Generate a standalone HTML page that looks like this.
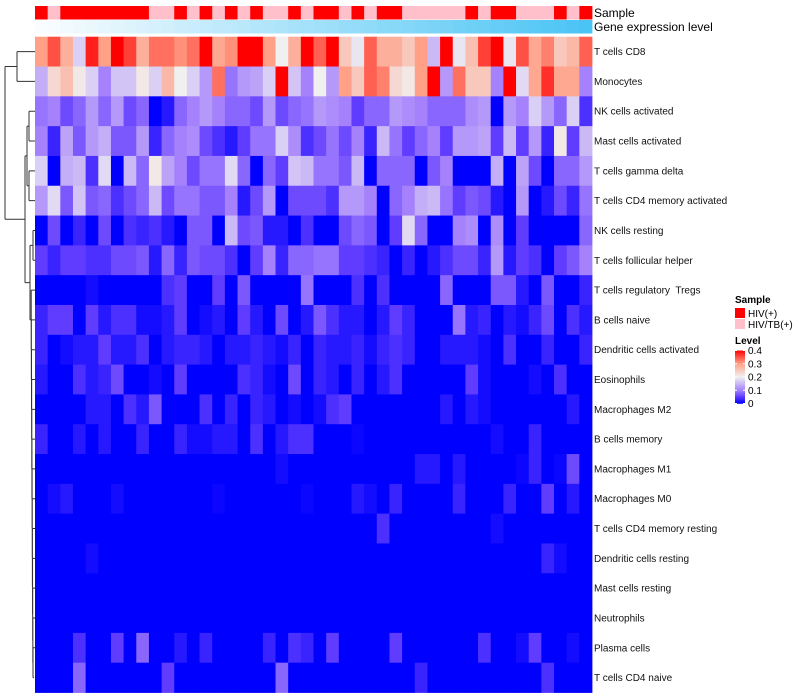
<!DOCTYPE html>
<html><head><meta charset="utf-8"><style>
body{margin:0;background:#fff;}
svg{display:block;font-family:"Liberation Sans",sans-serif;}
text{white-space:pre;}
</style></head><body>
<svg id="chart" width="800" height="700"></svg>
<script>
const rowLabels=["T cells CD8","Monocytes","NK cells activated","Mast cells activated","T cells gamma delta","T cells CD4 memory activated","NK cells resting","T cells follicular helper","T cells regulatory  Tregs","B cells naive","Dendritic cells activated","Eosinophils","Macrophages M2","B cells memory","Macrophages M1","Macrophages M0","T cells CD4 memory resting","Dendritic cells resting","Mast cells resting","Neutrophils","Plasma cells","T cells CD4 naive"];
const sampleGroups=[1,0,1,1,1,1,1,1,1,0,0,1,0,1,0,1,0,1,0,0,1,0,1,1,0,1,0,1,1,0,0,0,0,0,1,0,1,1,0,0,0,1,0,1];
const geneLevel=[0,.02,.05,.07,.09,.12,.14,.16,.19,.21,.23,.26,.28,.3,.33,.35,.37,.4,.42,.44,.47,.49,.51,.53,.56,.58,.6,.63,.65,.67,.7,.72,.74,.77,.79,.81,.84,.86,.88,.91,.93,.95,.98,1];
const legendTicks=[0,0.1,0.2,0.3,0.4];
const cellValues=[
[.3,.35,.28,.17,.38,.3,.4,.36,.28,.33,.33,.31,.33,.4,.29,.31,.4,.4,.3,.2,.28,.4,.34,.4,.25,.19,.34,.28,.28,.25,.3,.15,.4,.19,.26,.36,.4,.19,.35,.29,.32,.25,.27,.34],
[.14,.23,.26,.21,.17,.1,.16,.16,.21,.17,.27,.2,.17,.12,.33,.09,.12,.13,.17,.4,.16,.1,.2,.12,.3,.25,.34,.32,.23,.21,.3,.4,.12,.33,.25,.25,.1,.4,.18,.29,.37,.29,.29,.1],
[.09,.1,.06,.08,.12,.08,.12,.06,.08,0,.02,.08,.1,.12,.1,.08,.08,.06,.12,.06,.08,.09,.12,.11,.1,.05,.08,.08,.12,.11,.1,.08,.08,.08,.11,.12,0,.12,.1,.17,.12,.08,.17,.04],
[.1,.03,.13,.07,.12,.14,.07,.07,.12,.03,.08,.1,.11,.06,.04,.02,.05,.09,.09,.17,.11,.04,.06,.09,.06,.1,.03,.15,.09,.05,.08,.1,.05,.12,.12,.13,.05,.15,.05,.12,.03,.21,.05,.15],
[.17,0,.14,.15,.04,.18,0,.15,.08,.21,.13,.1,.06,.09,.09,.18,.08,0,.08,.05,.16,.15,.09,.09,.07,.15,0,.08,.08,.08,0,.07,.1,0,0,0,.14,0,.13,.06,0,.08,.08,.12],
[.12,.18,.07,.16,.07,.08,.04,.06,.08,.15,.06,.09,.09,.07,.07,.1,.02,.06,.12,0,.06,.06,.06,.04,.12,.12,.1,0,.08,.1,.14,.15,.09,.05,.07,.06,.02,0,.12,0,.02,.06,.03,.09],
[0,.06,0,.03,0,.06,0,.04,.03,.04,.02,0,.07,.07,0,.15,.06,.07,.02,.02,0,.04,0,0,.06,.08,.07,0,.05,.18,.08,0,0,.1,.11,0,.11,0,.05,0,0,0,0,.08],
[.05,.03,.05,.05,.04,.04,.06,.06,.07,.02,.08,.03,.07,.06,.06,.04,0,.05,.1,.03,.08,.08,.09,.09,.05,.05,.04,.03,0,.03,0,.02,.04,.06,.06,.03,.12,.02,.05,.04,0,.05,.07,.1],
[0,0,0,0,.01,0,0,0,0,0,.04,.05,0,0,.05,0,.07,0,0,0,0,.09,0,0,0,.04,0,.04,0,0,0,0,.08,0,0,0,.07,.07,.02,0,.07,0,0,.03],
[.03,.05,.05,0,.05,.02,.04,.04,.01,.01,.02,.05,0,.01,.02,0,.05,.02,0,.06,0,.02,.07,.04,.02,.02,0,.02,.05,.03,0,0,0,.09,.02,.03,0,.02,.01,.03,.06,0,.04,.02],
[.03,0,.01,.02,.02,.05,.02,.02,.04,0,.02,.03,.03,.02,0,.02,.02,.03,.02,.01,.03,0,.03,.02,.02,.03,.01,.03,.04,.03,0,0,.02,.02,.02,.01,0,.04,0,0,.03,0,0,.03],
[.02,0,0,.04,.02,.03,.06,0,0,.01,0,.05,0,0,0,0,.04,.03,.01,0,.06,0,.03,.02,0,.03,0,.02,.04,0,0,0,0,0,.05,.01,0,0,0,.01,0,.04,0,0],
[0,0,0,0,.02,.02,0,.04,.02,.07,0,0,0,.04,0,.03,0,.03,.02,0,.01,0,.01,.04,.05,0,0,0,0,0,0,0,.02,0,.02,.01,0,0,0,0,0,0,.02,0],
[.03,0,0,.02,0,.02,0,0,.03,0,0,.03,.01,.01,.02,.02,0,.04,0,.02,.04,.04,0,0,0,.005,0,0,0,0,0,0,0,0,0,0,.01,0,0,.03,0,0,0,0],
[0,0,0,0,0,0,0,0,0,0,0,0,0,0,0,0,0,0,0,.01,0,0,0,0,0,0,0,0,0,0,.02,.02,0,.02,0,0,0,0,.005,.03,0,.005,.06,0],
[0,.01,.02,0,0,0,.01,0,0,0,0,0,0,0,.005,0,0,0,0,0,0,.005,0,0,0,.02,.01,0,.03,0,0,0,0,.03,0,0,0,.03,0,0,.05,0,.02,0],
[0,0,0,0,0,0,0,0,0,0,0,0,0,0,0,0,0,0,0,0,0,0,0,0,0,0,0,.04,0,0,0,0,0,0,0,0,.01,0,0,0,0,0,0,0],
[0,0,0,0,.01,0,0,0,0,0,0,0,0,0,0,0,0,0,0,0,0,0,0,0,0,0,0,0,0,0,0,0,0,0,0,0,0,0,0,0,.03,.01,0,0],
[0,0,0,0,0,0,0,0,0,0,0,0,0,0,0,0,0,0,0,0,0,0,0,0,0,0,0,0,0,0,0,0,0,0,0,0,0,0,0,0,0,0,0,0],
[0,0,0,0,0,0,0,0,0,0,0,0,0,0,0,0,0,0,0,0,0,0,0,0,0,0,0,0,0,0,0,0,0,0,0,0,0,0,0,0,0,0,0,0],
[0,0,0,.04,0,0,.05,0,.08,0,0,.02,0,.03,0,0,0,0,.03,0,.04,.03,0,.05,0,0,0,0,.05,0,0,0,0,0,0,.04,0,0,.01,.05,0,0,.01,0],
[0,0,0,.08,0,0,0,0,0,0,.05,0,0,0,0,0,0,0,0,.08,0,0,0,0,0,0,0,0,0,0,.03,0,0,0,0,0,0,0,0,0,.04,0,0,0]
];

const NS="http://www.w3.org/2000/svg";
const svg=document.getElementById('chart');
const X0=35,X1=592,Y0=36.7,Y1=692.5;
const nCol=sampleGroups.length,nRow=rowLabels.length;
const cw=(X1-X0)/nCol,rh=(Y1-Y0)/nRow;
const xPos=i=>X0+i*cw, yPos=r=>Y0+r*rh;
function mk(tag,attrs){const e=document.createElementNS(NS,tag);for(const k in attrs)e.setAttribute(k,attrs[k]);svg.appendChild(e);return e;}
function lerp(a,b,t){return a.map((v,i)=>Math.round(v+(b[i]-v)*t));}
const stops=[[0,[0,0,255]],[0.05,[95,60,255]],[0.1,[165,130,252]],[0.2,[240,240,240]],[0.3,[255,160,135]],[0.4,[255,0,0]]];
function color(v){v=Math.max(0,Math.min(0.4,v));for(let i=1;i<stops.length;i++){if(v<=stops[i][0]){const t=(v-stops[i-1][0])/(stops[i][0]-stops[i-1][0]);return 'rgb('+lerp(stops[i-1][1],stops[i][1],t).join(',')+')';}}return 'rgb(255,0,0)';}

sampleGroups.forEach((g,i)=>{
  const e=mk('rect',{x:xPos(i),y:6,width:cw+0.4,height:13.5,fill:g?'#ff0000':'#ffc0cb'});
  
  
});
geneLevel.forEach((g,i)=>{
  const e=mk('rect',{x:xPos(i),y:20,width:cw+0.4,height:13.5,fill:'rgb('+lerp([250,253,255],[74,196,244],g).join(',')+')'});
  
  
});
let t=mk('text',{x:594,y:17,'font-size':12,fill:'#000'});t.textContent='Sample';

t=mk('text',{x:594,y:31,'font-size':12,fill:'#000'});t.textContent='Gene expression level';


cellValues.forEach((row,r)=>{
  row.forEach((v,c)=>{
    const e=mk('rect',{x:xPos(c),y:yPos(r),width:cw+0.4,height:rh+0.4,fill:color(v)});
    
    
  });
  const l=mk('text',{x:594,y:yPos(r)+rh/2+3.5,'font-size':10,fill:'#111'});
  l.textContent=rowLabels[r];
  
  
});

const yc=r=>yPos(r)+rh/2;
const dg=[];
function seg(x1,y1,x2,y2){dg.push('M'+x1+' '+y1+'L'+x2+' '+y2);}
function node(x,ya,yb,xa,xb){seg(xa,ya,x,ya);seg(xb,yb,x,yb);seg(x,ya,x,yb);}
node(17,yc(0),yc(1),35,35);
node(29,yc(2),yc(3),35,35);
node(29,yc(4),yc(5),35,35);
const n25=(yc(2)+yc(3))/2,n45=(yc(4)+yc(5))/2;
node(27,n25,n45,29,29);
node(33,yc(6),yc(7),35,35);
const n67=(yc(6)+yc(7))/2;
let prevY=yc(21),prevX=34;
for(let r=20;r>=8;r--){const x=33-(20-r)*0.15;node(x,yc(r),prevY,35,prevX);prevY=(yc(r)+prevY)/2;prevX=x;}
node(30,n67,prevY,33,prevX);
const n621=(n67+prevY)/2;
const n25b=(n25+n45)/2;
node(25,n25b,n621,27,30);
node(5,(yc(0)+yc(1))/2,(n25b+n621)/2,17,25);
const dp=mk('path',{d:dg.join(''),stroke:'#333',fill:'none','stroke-width':1});



t=mk('text',{x:735,y:303,'font-size':10,'font-weight':'bold'});t.textContent='Sample';

let r1=mk('rect',{x:735,y:308,width:10,height:10,fill:'#ff0000'});

t=mk('text',{x:748,y:317,'font-size':10});t.textContent='HIV(+)';

r1=mk('rect',{x:735,y:319,width:10,height:10,fill:'#ffc0cb'});

t=mk('text',{x:748,y:328,'font-size':10});t.textContent='HIV/TB(+)';

t=mk('text',{x:735,y:344,'font-size':10,'font-weight':'bold'});t.textContent='Level';

const lv=v=>403.5-v*132.5;
for(let k=0;k<60;k++){const v=0.4*k/60;const e=mk('rect',{x:735,y:lv(v+0.4/60),width:10,height:0.4*132.5/60+0.3,fill:color(v)});
  }
legendTicks.forEach(v=>{
  const ln=mk('path',{d:'M735 '+lv(v)+'h2M743 '+lv(v)+'h2',stroke:'#fff','stroke-width':1});
  
  const tt=mk('text',{x:748,y:lv(v)+3.5,'font-size':10});tt.textContent=String(v);
  
});
</script>
</body></html>
